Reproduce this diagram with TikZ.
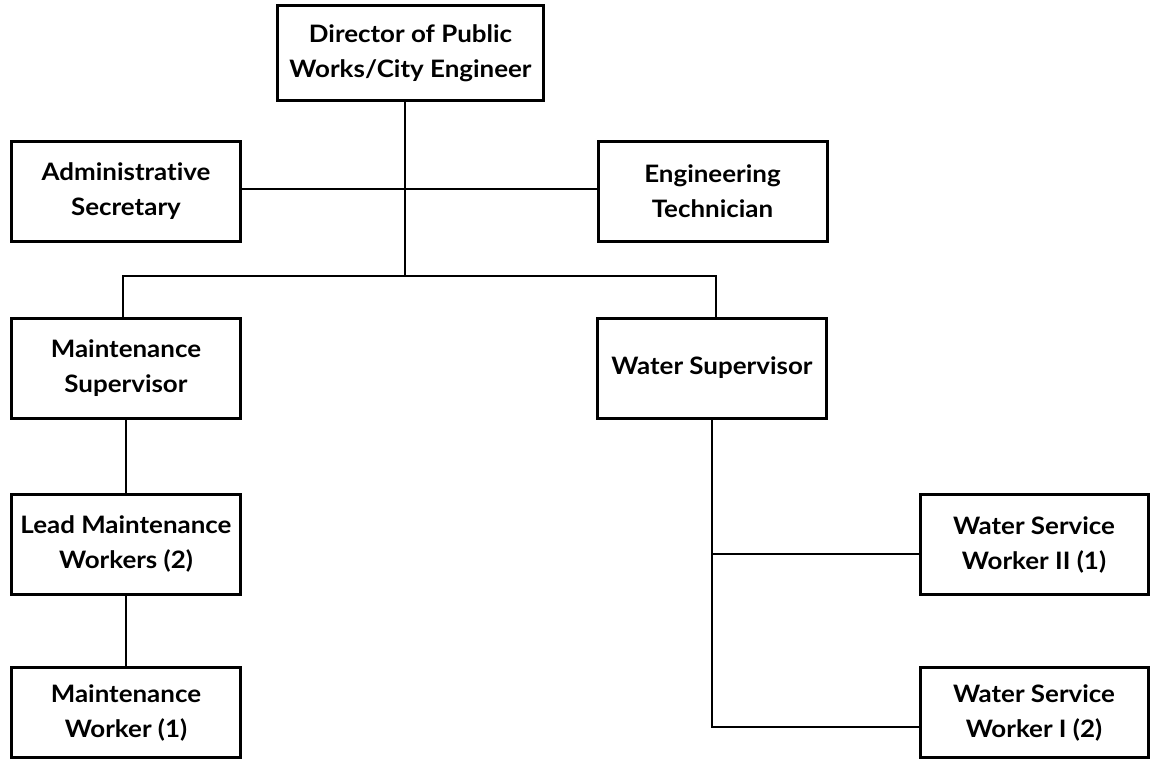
\documentclass[tikz,border=0pt]{standalone}
\usepackage{fontspec}
\setmainfont{Lato}[FakeStretch=1.08,Ligatures={NoCommon}]
\begin{document}
\begin{tikzpicture}[x=1pt,y=-1pt,
  box/.style={draw=black,line width=3pt,rectangle,inner sep=0pt,align=center,
    minimum width=229pt,minimum height=100pt,
    font=\fontsize{24}{35}\selectfont\bfseries},
  conn/.style={draw=black,line width=1.3pt}]
\useasboundingbox (0,0) rectangle (1153,760);
\node[box,minimum width=266pt,minimum height=95pt] (dir) at (410.5,53) {Director of Public\\Works/City Engineer};
\node[box] (adm) at (126,191.5) {Administrative\\Secretary};
\node[box] (eng) at (712.5,191) {Engineering\\Technician};
\node[box] (ms) at (126,368) {Maintenance\\Supervisor};
\node[box] (ws) at (712,368) {Water Supervisor};
\node[box] (lead) at (126,544) {Lead Maintenance\\Workers (2)};
\node[box,minimum height=90pt] (mw) at (126,712.5) {Maintenance\\Worker (1)};
\node[box,minimum width=228pt] (wsw2) at (1034,544.5) {Water Service\\Worker II (1)};
\node[box,minimum width=228pt,minimum height=90pt] (wsw1) at (1034,712.5) {Water Service\\Worker I (2)};
\coordinate (jm) at (405,276);
\coordinate (h) at (405,189);
\coordinate (bl) at (123,276);
\coordinate (br) at (716,276);
\coordinate (t2) at (712,554);
\coordinate (t1) at (712,727);
\draw[conn] (dir.south -| jm) -- (jm);
\draw[conn] (adm.east |- h) -- (eng.west |- h);
\draw[conn] (ms.north -| bl) -- (bl) -- (br) -- (ws.north -| br);
\draw[conn] (ms.south) -- (lead.north);
\draw[conn] (lead.south) -- (mw.north);
\draw[conn] (ws.south) -- (t1) -- (wsw1.west |- t1);
\draw[conn] (t2) -- (wsw2.west |- t2);
\end{tikzpicture}
\end{document}
